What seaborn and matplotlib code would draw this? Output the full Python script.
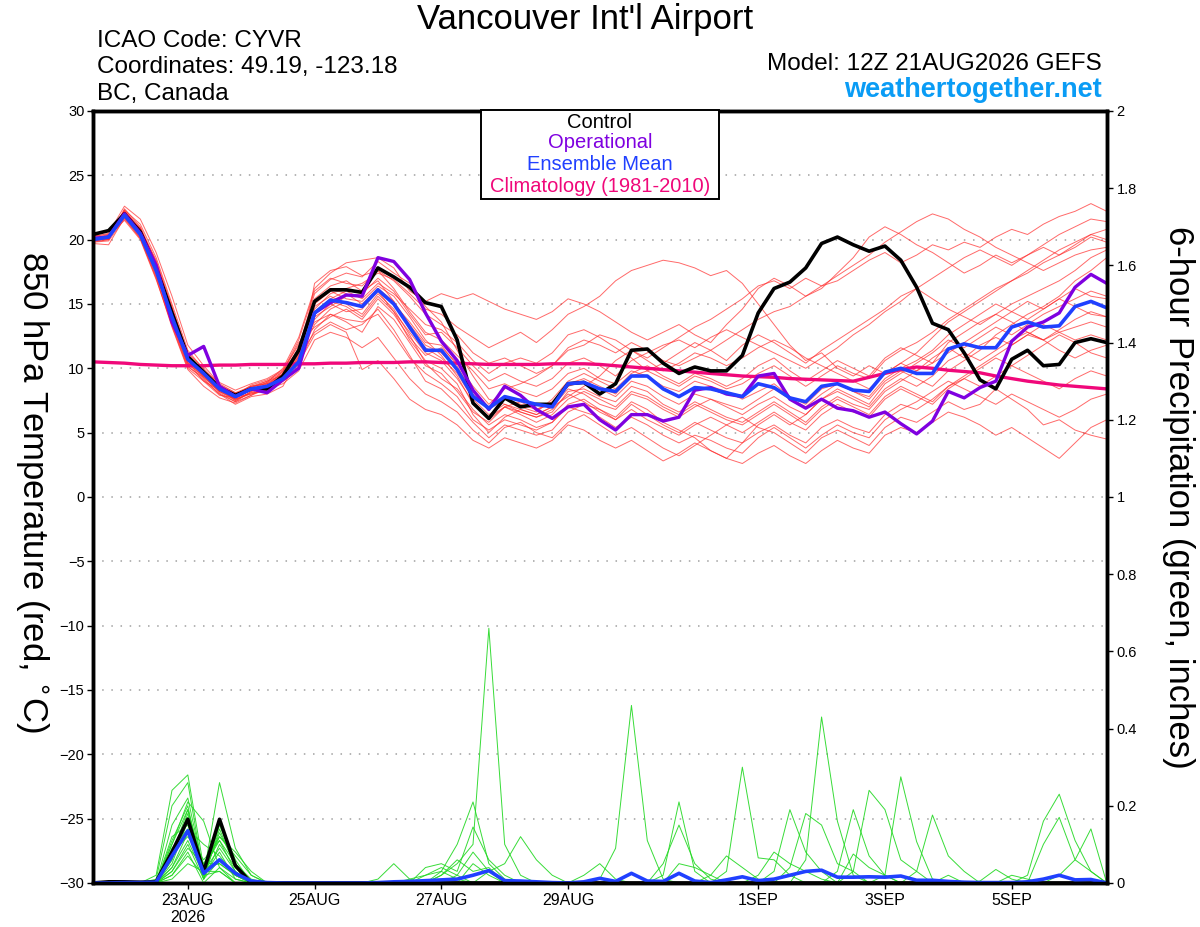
import numpy as np
import pandas as pd
import matplotlib
matplotlib.use("Agg")
import matplotlib.pyplot as plt
import matplotlib.patches as mpatches
import seaborn as sns

# 6-hourly steps, 12Z 21AUG2026 -> 12Z 6SEP2026
times = pd.date_range("2026-08-21 12:00", "2026-09-06 12:00", freq="6h")

# 850 hPa temperature (deg C)
control_t = [20.4, 20.7, 22.0, 20.6, 17.8, 14.3, 10.9, 9.7, 8.5, 7.9, 8.4, 8.4, 9.4, 11.4,
             15.2, 16.1, 16.1, 15.9, 17.8, 17.1, 16.3, 15.1, 14.8,
             12.2, 7.3, 6.1, 7.7, 7.0, 7.2, 7.2, 8.8, 8.9, 8.0, 8.8, 11.4, 11.5, 10.4, 9.6, 10.1, 9.8, 9.8, 11.0, 14.3,
             16.2, 16.7, 17.8, 19.7, 20.2, 19.6, 19.1, 19.5, 18.4, 16.3, 13.5, 13.0, 11.2, 9.1, 8.4, 10.7, 11.4, 10.2,
             10.3, 12.0, 12.3, 12.0]
oper_t = [20.1, 20.2, 22.0, 20.5, 18.0, 13.6, 11.0, 11.7, 8.6, 7.8, 8.4, 8.1, 9.1, 10.0,
          14.3, 15.1, 15.7, 15.6, 18.6, 18.3, 16.9, 14.3, 12.1,
          10.6, 8.3, 6.8, 8.6, 7.9, 6.8, 6.1, 7.0, 7.2, 6.0, 5.2, 6.4, 6.4, 5.9, 6.2, 8.3, 8.5, 8.0, 7.8, 9.4,
          9.6, 7.6, 6.9, 7.6, 6.9, 6.7, 6.2, 6.6, 5.7, 4.9, 5.9, 8.2, 7.7, 8.5, 9.0, 12.1, 13.2, 13.6, 14.3, 16.3,
          17.3, 16.6]
mean_t = [20.0, 20.2, 21.9, 20.4, 17.6, 14.0, 10.7, 9.6, 8.4, 7.8, 8.4, 8.6, 9.2, 10.5,
          14.3, 15.3, 15.1, 14.8, 16.1, 15.0, 13.2, 11.4, 11.4,
          9.9, 7.8, 6.9, 7.8, 7.5, 7.2, 7.0, 8.8, 8.9, 8.4, 8.2, 9.4, 9.4, 8.4, 7.8, 8.5, 8.4, 8.1, 7.8, 8.8,
          8.5, 7.7, 7.4, 8.6, 8.8, 8.3, 8.2, 9.7, 10.0, 9.6, 9.6, 11.5, 11.9, 11.6, 11.6, 13.2, 13.6, 13.2, 13.3,
          14.8, 15.2, 14.7]
clim_t = [10.5, 10.45, 10.4, 10.3, 10.25, 10.2, 10.2, 10.2, 10.25, 10.25, 10.3, 10.3, 10.3, 10.35,
          10.35, 10.4, 10.4, 10.45, 10.45, 10.45, 10.5, 10.5, 10.45,
          10.4, 10.35, 10.3, 10.3, 10.3, 10.3, 10.35, 10.35, 10.35, 10.3, 10.2, 10.1, 10.0, 9.9, 9.8, 9.7, 9.6,
          9.5, 9.4, 9.35,
          9.3, 9.2, 9.15, 9.1, 9.05, 9.0, 9.3, 9.6, 9.9, 10.1, 10.0, 9.85, 9.75, 9.65, 9.4, 9.2, 9.0, 8.85, 8.7,
          8.6, 8.5, 8.4]

# ensemble members (temperature)
t_m01 = [19.9, 20.0, 22.3, 21.2, 18.6, 15.0, 11.4, 9.9, 8.2, 7.6, 8.0, 8.5, 9.6, 11.6,
         15.8, 16.9, 17.4, 17.1, 18.3, 17.4, 16.6, 14.8, 13.6,
         11.4, 9.4, 7.6, 7.2, 6.8, 6.4, 7.0, 7.8, 8.6, 9.4, 10.6, 11.4, 10.8, 11.6, 12.4, 13.2, 13.8, 14.6, 15.4, 16.4,
         16.8, 16.2, 17.0, 16.4, 16.8, 17.6, 18.4, 19.0, 18.2, 18.8, 19.6, 19.2, 19.8, 19.4, 20.2, 20.8, 20.4, 21.2,
         21.8, 22.2, 22.8, 22.2]
t_m02 = [20.1, 20.3, 22.0, 20.6, 17.4, 13.6, 10.2, 9.1, 8.0, 7.4, 8.2, 8.8, 9.0, 10.2,
         14.6, 15.8, 16.2, 16.6, 17.4, 16.9, 15.8, 14.6, 14.2,
         13.2, 12.4, 11.6, 12.2, 12.8, 12.0, 13.0, 14.2, 14.8, 15.6, 16.8, 17.6, 18.0, 18.4, 18.2, 17.8, 17.2, 17.6,
         16.6, 15.0,
         13.4, 11.8, 10.6, 11.2, 10.0, 9.4, 10.2, 9.6, 10.4, 9.8, 10.8, 11.6, 10.8, 11.8, 12.4, 11.8, 12.6, 12.2,
         12.8, 13.2, 13.6, 13.2]
t_m03 = [20.2, 20.5, 22.6, 21.6, 19.0, 15.6, 11.8, 10.2, 8.8, 8.1, 8.3, 8.9, 10.0, 12.4,
         16.2, 17.4, 18.2, 18.4, 18.6, 17.8, 16.0, 15.2, 15.8,
         15.4, 15.8, 15.2, 14.6, 14.2, 13.8, 14.4, 15.4, 15.0, 14.4, 13.6, 12.8, 12.2, 12.8, 13.4, 12.6, 12.0, 13.4,
         14.6, 16.2,
         17.0, 16.4, 15.6, 16.2, 17.4, 18.6, 20.2, 21.0, 20.4, 19.6, 19.0, 18.2, 17.4, 18.0, 18.8, 18.2, 18.8, 19.4,
         18.8, 19.6, 20.4, 20.8]
t_m04 = [19.8, 19.9, 21.6, 20.1, 17.0, 13.2, 9.9, 8.6, 7.7, 7.3, 7.9, 8.4, 8.8, 9.8,
         12.2, 12.8, 12.4, 11.6, 12.4, 10.8, 9.2, 8.0, 7.4,
         6.6, 5.2, 4.2, 5.4, 5.8, 5.0, 4.6, 5.8, 6.4, 5.6, 4.8, 5.4, 4.6, 3.8, 3.2, 4.0, 4.8, 5.6, 6.2, 5.4,
         5.0, 4.2, 3.4, 4.6, 5.2, 4.6, 4.0, 5.4, 6.2, 5.8, 6.6, 7.4, 6.8, 7.2, 8.4, 7.6, 6.8, 5.6, 6.0, 5.2, 4.8, 4.5]
t_m05 = [20.0, 20.1, 21.8, 20.5, 17.8, 14.4, 10.8, 9.4, 8.6, 8.0, 8.6, 8.8, 9.4, 11.0,
         14.8, 15.6, 15.0, 14.2, 15.8, 14.6, 12.6, 10.4, 9.2,
         8.4, 6.8, 5.6, 6.4, 6.0, 5.4, 5.8, 7.2, 7.6, 6.8, 6.2, 7.4, 6.8, 5.8, 5.2, 4.6, 3.6, 3.0, 4.2, 5.6,
         6.4, 5.6, 6.4, 7.6, 8.2, 7.6, 7.0, 8.4, 9.2, 8.6, 9.4, 10.6, 11.2, 10.6, 11.4, 12.2, 12.8, 12.2, 13.0, 13.8,
         14.4, 14.0]
t_m06 = [20.3, 20.4, 22.2, 20.9, 18.0, 14.2, 10.6, 9.2, 8.0, 7.2, 7.8, 8.0, 8.6, 10.8,
         15.4, 16.4, 16.8, 16.0, 16.8, 15.2, 13.0, 11.6, 10.8,
         9.6, 7.6, 6.4, 7.2, 6.6, 6.2, 6.6, 8.2, 8.4, 7.8, 7.4, 8.6, 8.2, 7.2, 6.6, 7.4, 6.8, 6.2, 5.8, 6.6,
         7.4, 6.6, 5.8, 7.0, 7.8, 7.2, 6.8, 8.2, 9.0, 9.8, 10.4, 12.0, 12.8, 13.6, 14.2, 15.0, 15.6, 16.2, 16.8, 17.6,
         18.6, 19.2]
t_m07 = [19.7, 19.6, 21.7, 20.2, 17.2, 13.8, 10.4, 9.7, 8.5, 7.9, 8.7, 9.1, 9.8, 11.4,
         13.6, 14.2, 13.6, 12.8, 14.8, 13.8, 12.0, 10.2, 9.6,
         8.2, 6.6, 5.8, 7.0, 7.4, 6.8, 7.2, 8.8, 9.2, 8.6, 8.0, 9.4, 9.8, 10.4, 11.2, 12.0, 11.4, 10.6, 11.8, 12.6,
         12.0, 11.2, 10.4, 11.4, 12.2, 13.0, 13.8, 14.6, 15.6, 16.2, 15.4, 14.6, 14.0, 13.4, 14.2, 13.6, 12.8, 12.2,
         11.4, 10.8, 11.4, 11.8]
t_m08 = [20.1, 20.2, 21.9, 20.8, 18.4, 14.8, 11.0, 9.6, 8.4, 7.5, 8.1, 8.2, 9.0, 10.0,
         16.6, 17.6, 17.9, 17.2, 17.6, 16.2, 14.4, 12.8, 12.2,
         11.0, 9.8, 8.4, 8.8, 8.2, 7.8, 8.4, 9.6, 10.0, 9.2, 8.8, 9.8, 9.4, 8.6, 8.2, 9.0, 8.6, 8.2, 7.6, 8.2,
         8.8, 7.8, 7.2, 8.4, 8.8, 8.2, 7.6, 9.0, 9.8, 9.2, 8.6, 9.8, 10.6, 11.4, 12.6, 13.4, 14.2, 14.8, 15.6, 16.8,
         17.6, 18.6]
t_m09 = [20.0, 20.0, 22.1, 20.3, 17.5, 13.9, 10.5, 9.0, 7.9, 7.7, 8.5, 9.0, 9.7, 12.0,
         13.2, 14.0, 14.6, 13.8, 15.4, 14.2, 12.4, 11.0, 11.6,
         10.4, 8.6, 7.2, 8.4, 8.8, 9.4, 10.2, 11.4, 11.8, 12.6, 12.2, 11.4, 10.6, 9.8, 10.4, 11.2, 10.8, 10.2, 10.8,
         11.6,
         12.2, 11.6, 10.8, 10.2, 9.6, 9.0, 8.4, 9.6, 10.4, 11.2, 12.4, 13.6, 14.4, 15.2, 16.0, 16.8, 17.4, 18.2,
         18.8, 19.4, 20.2, 19.8]
t_m10 = [19.9, 20.3, 21.5, 20.0, 16.9, 13.4, 10.1, 9.3, 8.3, 7.6, 8.4, 8.7, 9.2, 10.4,
         12.6, 13.4, 12.8, 9.9, 10.6, 9.2, 7.6, 6.8, 6.4,
         5.6, 4.4, 3.8, 4.6, 4.2, 3.8, 4.4, 5.6, 5.2, 4.4, 3.8, 4.4, 3.6, 2.8, 3.4, 4.2, 3.6, 3.0, 2.6, 3.4,
         4.0, 3.2, 2.6, 3.6, 4.4, 3.8, 3.4, 4.8, 5.4, 5.0, 5.8, 6.6, 6.2, 5.6, 4.8, 5.4, 4.6, 3.8, 3.0, 4.2, 5.4, 6.0]
t_m11 = [20.2, 20.1, 22.4, 21.0, 18.3, 14.6, 11.2, 10.0, 8.7, 7.8, 8.0, 8.3, 9.3, 11.2,
         14.0, 14.8, 15.6, 15.8, 17.0, 16.0, 14.2, 12.6, 12.8,
         11.6, 10.2, 9.0, 9.6, 9.0, 8.6, 9.2, 10.4, 10.8, 10.2, 9.4, 10.6, 11.2, 11.8, 12.2, 11.6, 12.4, 13.0, 12.4,
         11.8,
         11.2, 10.6, 10.0, 10.8, 11.6, 12.6, 13.4, 14.4, 15.2, 16.2, 17.0, 17.8, 18.6, 19.2, 18.6, 18.0, 18.8, 19.6,
         20.4, 21.0, 21.6, 21.4]
t_m12 = [20.0, 20.2, 21.8, 20.4, 17.7, 14.1, 10.6, 9.8, 8.9, 8.3, 8.8, 9.2, 9.9, 11.8,
         15.0, 16.0, 15.4, 15.2, 16.4, 15.6, 14.0, 12.2, 11.0,
         9.4, 7.2, 6.2, 7.0, 6.6, 6.2, 6.8, 8.0, 7.4, 6.6, 6.0, 7.2, 6.4, 5.6, 5.0, 5.8, 5.2, 4.6, 4.2, 5.0,
         5.6, 4.8, 4.2, 5.4, 6.0, 5.4, 5.0, 6.4, 7.2, 6.8, 7.6, 8.6, 9.2, 10.0, 10.8, 10.2, 9.6, 9.0, 8.4, 9.2,
         9.8, 9.4]
t_m13 = [19.8, 20.0, 22.0, 20.7, 17.9, 14.3, 10.9, 9.5, 8.1, 7.4, 7.9, 8.6, 9.1, 10.6,
         13.8, 15.0, 14.4, 14.6, 16.0, 14.4, 12.2, 10.6, 10.0,
         8.8, 6.4, 5.0, 6.2, 6.8, 6.4, 7.0, 8.4, 8.0, 7.2, 6.8, 8.0, 7.6, 6.8, 6.2, 7.0, 7.6, 7.0, 6.4, 7.2,
         7.8, 7.0, 6.4, 7.6, 8.4, 7.8, 7.2, 8.8, 9.6, 10.4, 11.2, 12.2, 11.6, 12.4, 13.2, 12.6, 13.4, 14.2, 14.8,
         15.4, 16.0, 15.6]
t_m14 = [20.1, 20.4, 22.2, 20.6, 17.3, 13.5, 10.3, 9.4, 8.6, 8.0, 8.5, 8.9, 9.5, 11.5,
         14.4, 15.4, 16.0, 15.4, 16.6, 15.8, 14.6, 13.4, 13.0,
         12.0, 10.6, 9.6, 10.4, 10.8, 10.4, 11.2, 12.6, 13.0, 12.4, 11.6, 10.8, 9.8, 9.2, 8.6, 9.4, 9.0, 8.4, 8.8,
         9.6,
         10.2, 9.4, 8.6, 9.4, 10.2, 9.6, 9.2, 10.6, 11.4, 12.0, 12.8, 13.8, 14.6, 15.4, 16.2, 16.8, 17.6, 18.4,
         19.2, 19.8, 20.4, 20.0]
t_m15 = [20.3, 20.2, 21.9, 20.9, 18.1, 14.5, 10.8, 9.3, 8.2, 7.5, 8.2, 8.5, 9.3, 10.9,
         12.8, 13.6, 13.0, 13.4, 14.6, 13.0, 11.0, 9.0, 8.4,
         7.2, 5.8, 4.6, 5.6, 5.2, 4.8, 5.2, 6.6, 7.2, 6.8, 6.0, 6.8, 6.0, 5.4, 4.8, 5.6, 6.2, 5.6, 5.0, 5.8,
         6.6, 5.8, 5.2, 6.4, 7.2, 6.6, 6.2, 7.6, 8.4, 7.8, 7.2, 8.4, 9.2, 8.6, 9.4, 10.2, 11.0, 11.8, 12.6, 12.0,
         11.2, 10.8]
t_m16 = [19.9, 20.1, 22.1, 20.3, 17.6, 13.7, 10.4, 9.6, 8.5, 7.9, 8.6, 8.8, 9.6, 11.1,
         15.2, 16.2, 15.8, 15.0, 16.2, 15.0, 13.6, 12.0, 11.8,
         10.2, 8.0, 6.8, 7.6, 7.0, 6.6, 7.6, 9.0, 9.6, 9.0, 8.4, 9.6, 10.2, 9.4, 8.8, 9.6, 9.2, 8.6, 9.2, 10.2,
         10.8, 9.8, 9.0, 9.8, 10.6, 10.0, 9.4, 10.8, 11.6, 11.0, 10.4, 11.2, 12.0, 12.8, 13.6, 14.4, 15.2, 14.6,
         15.4, 16.2, 15.6, 15.4]
t_m17 = [20.0, 20.3, 21.7, 20.1, 17.1, 13.3, 10.0, 9.0, 8.3, 7.8, 8.3, 8.7, 9.4, 10.3,
         13.0, 14.2, 13.8, 13.6, 14.2, 12.6, 10.8, 9.6, 8.8,
         7.8, 6.0, 5.2, 6.0, 5.6, 5.2, 5.8, 7.0, 6.6, 6.2, 5.4, 6.2, 5.6, 4.8, 4.2, 4.8, 4.4, 3.8, 3.4, 4.6,
         5.4, 4.6, 3.8, 4.8, 5.6, 5.0, 4.6, 6.0, 6.8, 7.4, 8.2, 9.0, 8.4, 7.8, 7.2, 8.0, 7.4, 6.8, 6.2, 6.8, 7.6, 8.0]
t_m18 = [20.2, 20.0, 22.3, 20.8, 18.2, 14.7, 11.1, 9.8, 8.4, 7.6, 8.1, 8.6, 9.8, 12.2,
         16.0, 17.0, 16.6, 16.4, 17.6, 16.8, 15.6, 14.2, 13.4,
         12.6, 11.2, 10.4, 10.8, 10.2, 9.6, 10.2, 11.6, 12.2, 11.8, 11.2, 12.0, 11.4, 10.6, 10.2, 10.8, 11.4, 12.2,
         13.0, 13.8,
         14.4, 14.8, 15.6, 16.4, 17.2, 18.0, 18.8, 19.8, 20.6, 21.4, 22.0, 21.6, 20.8, 20.2, 19.4, 18.8, 18.2, 17.6,
         18.2, 18.8, 19.2, 19.4]
t_m19 = [19.9, 20.1, 21.9, 20.5, 17.7, 14.0, 10.7, 9.7, 8.7, 8.1, 8.6, 9.0, 9.5, 10.7,
         14.2, 15.2, 14.8, 14.0, 15.6, 14.4, 12.8, 11.2, 10.6,
         9.2, 7.4, 6.0, 7.0, 6.4, 5.8, 6.4, 7.6, 8.2, 7.6, 7.0, 8.2, 7.8, 7.0, 6.4, 7.2, 6.6, 6.0, 5.6, 6.4,
         7.2, 6.4, 5.6, 6.8, 7.6, 7.0, 6.4, 7.8, 8.6, 8.0, 7.4, 8.6, 9.4, 10.2, 11.0, 11.8, 12.6, 13.4, 12.8, 12.2,
         12.6, 12.2]
t_m20 = [20.1, 20.3, 22.0, 20.4, 17.5, 13.9, 10.6, 9.4, 8.2, 7.7, 8.3, 8.5, 9.1, 10.9,
         13.4, 14.6, 15.2, 14.8, 16.2, 15.2, 13.4, 11.8, 11.2,
         10.0, 8.2, 7.0, 7.6, 7.2, 6.8, 7.4, 8.6, 9.0, 8.4, 7.8, 9.0, 8.6, 7.8, 7.2, 8.0, 7.6, 7.2, 6.8, 7.6,
         8.4, 7.6, 7.0, 8.0, 8.8, 8.2, 7.8, 9.2, 10.0, 10.6, 11.4, 12.6, 13.4, 14.2, 15.0, 14.4, 13.8, 14.6, 15.4,
         14.8, 14.2, 14.0]

# 6-hour precipitation (inches)
control_p = [0, 0.003, 0.003, 0.002, 0.003, 0.08, 0.165, 0.03, 0.165, 0.045, 0, 0, 0,
             0, 0, 0, 0, 0, 0, 0, 0, 0, 0, 0, 0, 0,
             0, 0, 0, 0, 0, 0, 0, 0, 0, 0, 0, 0, 0,
             0, 0, 0, 0, 0, 0, 0, 0, 0, 0, 0, 0, 0,
             0, 0, 0, 0, 0, 0, 0, 0, 0, 0, 0, 0, 0]
mean_p = [0, 0, 0.001, 0.001, 0.002, 0.07, 0.135, 0.025, 0.06, 0.025, 0.005, 0.001, 0,
          0, 0, 0, 0, 0, 0.001, 0.003, 0.004, 0.006, 0.008, 0.01, 0.02, 0.032,
          0.006, 0.005, 0.003, 0.001, 0, 0.003, 0.012, 0.004, 0.025, 0.005, 0.004, 0.025, 0.005,
          0.001, 0.008, 0.016, 0.006, 0.01, 0.02, 0.03, 0.033, 0.015, 0.015, 0.016, 0.015, 0.018,
          0.007, 0.007, 0.004, 0.002, 0.001, 0.001, 0.001, 0.003, 0.01, 0.02, 0.008, 0.009, 0]

p_m01 = [0, 0, 0, 0, .02, .24, .28, .04, .05, .02, 0, 0, 0,
         0, 0, 0, 0, 0, 0, 0, .01, .02, .03, .01, 0, 0,
         0, 0, 0, 0, 0, 0, 0, 0, 0, 0, 0, 0, 0,
         0, 0, 0, 0, 0, 0, 0, 0, 0, 0, 0, 0, 0,
         0, 0, 0, 0, .005, .035, .01, 0, 0, 0, 0, 0, 0]
p_m02 = [0, 0, 0, 0, .01, .2, .26, .02, .26, .09, .02, 0, 0,
         0, 0, 0, 0, 0, 0, 0, 0, 0, 0, 0, 0, 0,
         0, 0, 0, 0, 0, 0, .01, .09, .46, .11, .01, 0, 0,
         0, 0, 0, 0, 0, 0, 0, 0, 0, 0, 0, 0, 0,
         0, 0, 0, 0, 0, 0, 0, 0, 0, 0, 0, 0, 0]
p_m03 = [0, 0, 0, 0, 0, .1, .21, .16, .04, .01, 0, 0, 0,
         0, 0, 0, 0, 0, .01, .05, .01, 0, 0, 0, 0, 0,
         0, 0, 0, 0, 0, 0, 0, 0, 0, 0, 0, 0, 0,
         0, 0, 0, 0, 0, 0, .06, .43, .16, .02, 0, 0, 0,
         0, 0, 0, 0, 0, 0, 0, 0, 0, 0, 0, 0, 0]
p_m04 = [0, 0, 0, 0, 0, .07, .19, .02, .16, .06, 0, 0, 0,
         0, 0, 0, 0, 0, 0, 0, 0, 0, 0, 0, 0, 0,
         0, 0, 0, 0, 0, 0, 0, 0, 0, 0, .02, .21, .03,
         0, 0, 0, 0, 0, 0, 0, 0, 0, 0, 0, 0, 0,
         0, 0, 0, 0, 0, 0, 0, 0, 0, 0, 0, 0, 0]
p_m05 = [0, 0, 0, 0, 0, .05, .16, .01, .14, .04, 0, 0, 0,
         0, 0, 0, 0, 0, 0, 0, 0, 0, .02, .05, .1, .66,
         .1, .02, 0, 0, 0, 0, 0, 0, 0, 0, 0, 0, 0,
         0, 0, 0, 0, 0, 0, 0, 0, 0, 0, 0, 0, 0,
         0, 0, 0, 0, 0, 0, 0, 0, .1, .17, .06, .03, 0]
p_m06 = [0, 0, 0, 0, 0, .04, .13, .05, .12, .08, .03, 0, 0,
         0, 0, 0, 0, 0, 0, 0, 0, 0, 0, 0, 0, 0,
         0, 0, 0, 0, 0, 0, 0, 0, 0, 0, 0, 0, 0,
         .02, .07, .04, .01, 0, 0, 0, 0, 0, 0, 0, 0, 0,
         0, 0, 0, 0, 0, 0, 0, 0, 0, 0, 0, 0, 0]
p_m07 = [0, 0, 0, 0, 0, .12, .15, .03, .09, .03, 0, 0, 0,
         0, 0, 0, 0, 0, 0, 0, 0, 0, .03, .1, .21, .05,
         .01, 0, 0, 0, 0, 0, 0, 0, 0, 0, 0, 0, 0,
         0, 0, 0, 0, 0, 0, 0, 0, 0, 0, 0, 0, 0,
         0, 0, 0, 0, 0, 0, 0, 0, 0, .02, .06, .14, 0]
p_m08 = [0, 0, 0, 0, 0, .03, .1, .01, .06, .02, 0, 0, 0,
         0, 0, 0, 0, 0, 0, 0, 0, 0, 0, 0, 0, 0,
         0, 0, 0, 0, 0, 0, 0, 0, 0, 0, 0, 0, 0,
         0, .03, .3, .065, .06, .02, 0, 0, 0, 0, 0, 0, 0,
         0, 0, 0, 0, 0, 0, 0, 0, 0, 0, 0, 0, 0]
p_m09 = [0, 0, 0, 0, 0, .08, .12, .06, .11, .05, .01, 0, 0,
         0, 0, 0, 0, 0, 0, 0, 0, 0, .02, .06, .03, .04,
         0, 0, 0, 0, 0, 0, 0, 0, 0, 0, .05, .15, .05,
         .01, 0, 0, 0, 0, 0, 0, 0, 0, 0, 0, 0, 0,
         0, 0, 0, 0, 0, 0, 0, 0, 0, 0, 0, 0, 0]
p_m10 = [0, 0, 0, 0, 0, .02, .08, 0, .04, 0, 0, 0, 0,
         0, 0, 0, 0, 0, 0, 0, 0, 0, 0, 0, 0, 0,
         0, 0, 0, 0, 0, 0, 0, 0, 0, 0, 0, 0, 0,
         0, 0, 0, 0, 0, 0, 0, 0, .03, .19, .07, .02, 0,
         0, 0, 0, 0, 0, 0, 0, 0, 0, 0, 0, 0, 0]
p_m11 = [0, 0, 0, 0, 0, .06, .18, .02, .13, .05, 0, 0, 0,
         0, 0, 0, 0, 0, 0, 0, 0, .04, .05, .03, .145, .06,
         .02, 0, 0, 0, 0, 0, 0, 0, 0, 0, 0, 0, 0,
         0, 0, 0, 0, 0, 0, 0, 0, 0, 0, 0, 0, 0,
         0, 0, 0, 0, 0, 0, 0, .02, .16, .23, .11, .03, 0]
p_m12 = [0, 0, 0, 0, 0, .09, .14, .1, .07, .02, 0, 0, 0,
         0, 0, 0, 0, 0, 0, 0, 0, 0, 0, 0, 0, 0,
         0, 0, 0, 0, 0, 0, 0, 0, 0, 0, 0, 0, 0,
         0, 0, 0, .02, .08, .05, .03, .01, 0, 0, 0, 0, 0,
         0, 0, 0, 0, 0, 0, 0, 0, 0, 0, 0, 0, 0]
p_m13 = [0, 0, 0, 0, 0, .01, .05, .03, .03, 0, 0, 0, 0,
         0, 0, 0, 0, 0, 0, 0, 0, 0, 0, 0, 0, .03,
         .05, .12, .06, .02, 0, 0, 0, 0, 0, 0, 0, 0, 0,
         0, 0, 0, 0, 0, 0, 0, 0, 0, 0, 0, 0, 0,
         0, 0, 0, 0, 0, 0, .02, .01, 0, 0, 0, 0, 0]
p_m14 = [0, 0, 0, 0, 0, .11, .2, .01, .1, .04, 0, 0, 0,
         0, 0, 0, 0, 0, 0, 0, 0, 0, 0, 0, 0, 0,
         0, 0, 0, 0, 0, 0, 0, 0, 0, 0, 0, .05, .04,
         .02, 0, 0, 0, 0, 0, 0, 0, 0, 0, 0, 0, 0,
         0, 0, .02, 0, 0, 0, 0, 0, 0, 0, 0, 0, 0]
p_m15 = [0, 0, 0, 0, 0, .04, .11, .02, .08, .01, 0, 0, 0,
         0, 0, 0, 0, 0, 0, 0, 0, 0, 0, 0, .05, .02,
         0, 0, 0, 0, 0, 0, 0, 0, 0, 0, 0, 0, 0,
         0, 0, 0, 0, .03, .19, .08, .03, 0, 0, 0, 0, 0,
         0, 0, 0, 0, 0, 0, 0, 0, 0, 0, 0, 0, 0]
p_m16 = [0, 0, 0, 0, 0, .15, .22, .03, .12, .07, .02, 0, 0,
         0, 0, 0, 0, 0, 0, 0, 0, 0, 0, 0, 0, 0,
         0, 0, 0, 0, 0, .02, .05, .01, 0, 0, 0, 0, 0,
         0, 0, 0, 0, 0, 0, 0, 0, 0, .075, .04, .02, 0,
         0, 0, 0, 0, 0, 0, 0, 0, 0, 0, 0, 0, 0]
p_m17 = [0, 0, 0, 0, 0, .03, .09, .05, .05, .02, 0, 0, 0,
         0, 0, 0, 0, 0, 0, 0, 0, 0, 0, 0, 0, 0,
         0, 0, 0, 0, 0, 0, 0, 0, 0, 0, 0, 0, 0,
         0, 0, 0, 0, 0, .04, .18, .15, .05, .03, 0, 0, 0,
         0, 0, 0, 0, 0, 0, 0, 0, 0, 0, 0, 0, 0]
p_m18 = [0, 0, 0, 0, 0, .06, .17, .01, .15, .05, 0, 0, 0,
         0, 0, 0, 0, 0, 0, 0, 0, 0, 0, .02, .08, .03,
         0, 0, 0, 0, 0, 0, 0, 0, 0, 0, 0, 0, 0,
         0, 0, 0, 0, 0, 0, 0, 0, 0, .03, .24, .19, .06,
         .03, 0, 0, 0, 0, 0, 0, 0, 0, 0, 0, 0, 0]
p_m19 = [0, 0, 0, 0, 0, .02, .07, .02, .03, 0, 0, 0, 0,
         0, 0, 0, 0, 0, 0, 0, 0, 0, 0, 0, 0, 0,
         0, 0, 0, 0, 0, 0, 0, 0, 0, 0, 0, 0, 0,
         0, 0, 0, 0, 0, 0, 0, 0, 0, 0, 0, .02, .275,
         .107, .01, 0, 0, 0, 0, 0, 0, 0, 0, 0, 0, 0]
p_m20 = [0, 0, 0, 0, 0, .1, .19, .04, .11, .03, 0, 0, 0,
         0, 0, 0, 0, 0, 0, 0, 0, .02, .04, .02, 0, 0,
         0, 0, 0, 0, 0, 0, 0, 0, 0, 0, 0, 0, 0,
         0, 0, 0, 0, 0, 0, 0, 0, 0, 0, 0, 0, 0,
         .03, .176, .07, .03, 0, 0, 0, 0, 0, 0, 0, 0, 0]

tick_days = ["2026-08-23", "2026-08-25", "2026-08-27", "2026-08-29", "2026-09-01", "2026-09-03", "2026-09-05"]
tick_labels = ["23AUG\n2026", "25AUG", "27AUG", "29AUG", "1SEP", "3SEP", "5SEP"]

temp_members = [t_m01, t_m02, t_m03, t_m04, t_m05, t_m06, t_m07, t_m08, t_m09, t_m10,
                t_m11, t_m12, t_m13, t_m14, t_m15, t_m16, t_m17, t_m18, t_m19, t_m20]
prcp_members = [p_m01, p_m02, p_m03, p_m04, p_m05, p_m06, p_m07, p_m08, p_m09, p_m10,
                p_m11, p_m12, p_m13, p_m14, p_m15, p_m16, p_m17, p_m18, p_m19, p_m20]

n = len(times)
ens = pd.DataFrame({
    "time": np.tile(times.values, len(temp_members)),
    "member": np.repeat(np.arange(len(temp_members)), n),
    "temp": np.concatenate(temp_members),
    "prcp": np.concatenate(prcp_members),
})

sns.set_style("ticks")
plt.rcParams["font.family"] = ["Liberation Sans", "DejaVu Sans"]
plt.rcParams["text.color"] = "black"
plt.rcParams["xtick.color"] = "black"
plt.rcParams["ytick.color"] = "black"
plt.rcParams["axes.labelcolor"] = "black"

fig = plt.figure(figsize=(12, 9.27), dpi=100)
ax = fig.add_axes([0.0773, 0.0475, 0.845, 0.8328])
ax2 = ax.twinx()

# temperature
sns.lineplot(data=ens, x="time", y="temp", units="member", estimator=None,
             color="#ff2a2a", lw=0.7, alpha=0.7, ax=ax)
sns.lineplot(x=times, y=clim_t, color="#f0087a", lw=2.4, ax=ax)
sns.lineplot(x=times, y=control_t, color="black", lw=2.6, ax=ax)
sns.lineplot(x=times, y=oper_t, color="#7f00e0", lw=2.4, ax=ax)
sns.lineplot(x=times, y=mean_t, color="#2040ff", lw=2.6, ax=ax)

# precipitation
sns.lineplot(data=ens, x="time", y="prcp", units="member", estimator=None,
             color="#22d822", lw=0.7, alpha=0.9, ax=ax2)
sns.lineplot(x=times, y=control_p, color="black", lw=2.6, ax=ax2)
sns.lineplot(x=times, y=mean_p, color="#2040ff", lw=2.6, ax=ax2)

ax.set_xlim(times[0], times[-1])
ax.set_ylim(-30, 30)
ax.set_yticks(np.arange(-30, 31, 5))
ax2.set_ylim(0, 2)
ax2.set_yticks(np.arange(0, 2.01, 0.2))
ax2.set_yticklabels(["0", "0.2", "0.4", "0.6", "0.8", "1", "1.2", "1.4", "1.6", "1.8", "2"])
ax.set_xticks(pd.to_datetime(tick_days))
ax.set_xticklabels(tick_labels)

ax.grid(axis="y", color="#a0a0a0", linestyle=(0, (1, 5)), lw=1.1)
ax.set_axisbelow(True)
for a in (ax, ax2):
    a.set_xlabel("")
    a.set_ylabel("")
    for s in a.spines.values():
        s.set_linewidth(2.5)
        s.set_color("black")
ax.tick_params(axis="y", labelsize=10.5, length=4, width=1, pad=2, colors="black")
ax.tick_params(axis="x", labelsize=11.5, length=4, width=1, pad=3, colors="black")
ax2.tick_params(axis="y", labelsize=10.5, length=4, width=1, pad=3, colors="black")

def fy(px):
    return 1 - px / 927

# header
fig.text(585 / 1200, fy(19), "Vancouver Int'l Airport", ha="center", va="center", fontsize=25, color="black")
fig.text(97 / 1200, fy(41), "ICAO Code: CYVR", ha="left", va="center", fontsize=17.5, color="black")
fig.text(97 / 1200, fy(67), "Coordinates: 49.19, -123.18", ha="left", va="center", fontsize=17.5, color="black")
fig.text(97 / 1200, fy(94), "BC, Canada", ha="left", va="center", fontsize=17.5, color="black")
fig.text(1102 / 1200, fy(64), "Model: 12Z 21AUG2026 GEFS", ha="right", va="center", fontsize=17.5, color="black")
fig.text(1102 / 1200, fy(90), "weathertogether.net", ha="right", va="center", fontsize=19.5,
         fontweight="bold", color="#0a9cf5")

# axis titles
fig.text(32 / 1200, fy(492), "850 hPa Temperature (red, $^{\\circ}$C)", rotation=270,
         ha="center", va="center", fontsize=25, color="black")
fig.text(1178 / 1200, fy(497), "6-hour Precipitation (green, inches)", rotation=270,
         ha="center", va="center", fontsize=25, color="black")

# legend box
box = mpatches.Rectangle((480.5 / 1200, fy(198.5)), 238.5 / 1200, 88 / 927, transform=fig.transFigure,
                         facecolor="white", edgecolor="black", lw=1.4, zorder=5)
fig.add_artist(box)
leg_items = [("Control", "black", 122), ("Operational", "#7f00e0", 143),
             ("Ensemble Mean", "#2040ff", 165), ("Climatology (1981-2010)", "#f0087a", 186)]
for txt, col, ypx in leg_items:
    fig.text(600 / 1200, fy(ypx), txt, ha="center", va="center", fontsize=14.5, color=col, zorder=6)

fig.savefig("out.png", dpi=100)
